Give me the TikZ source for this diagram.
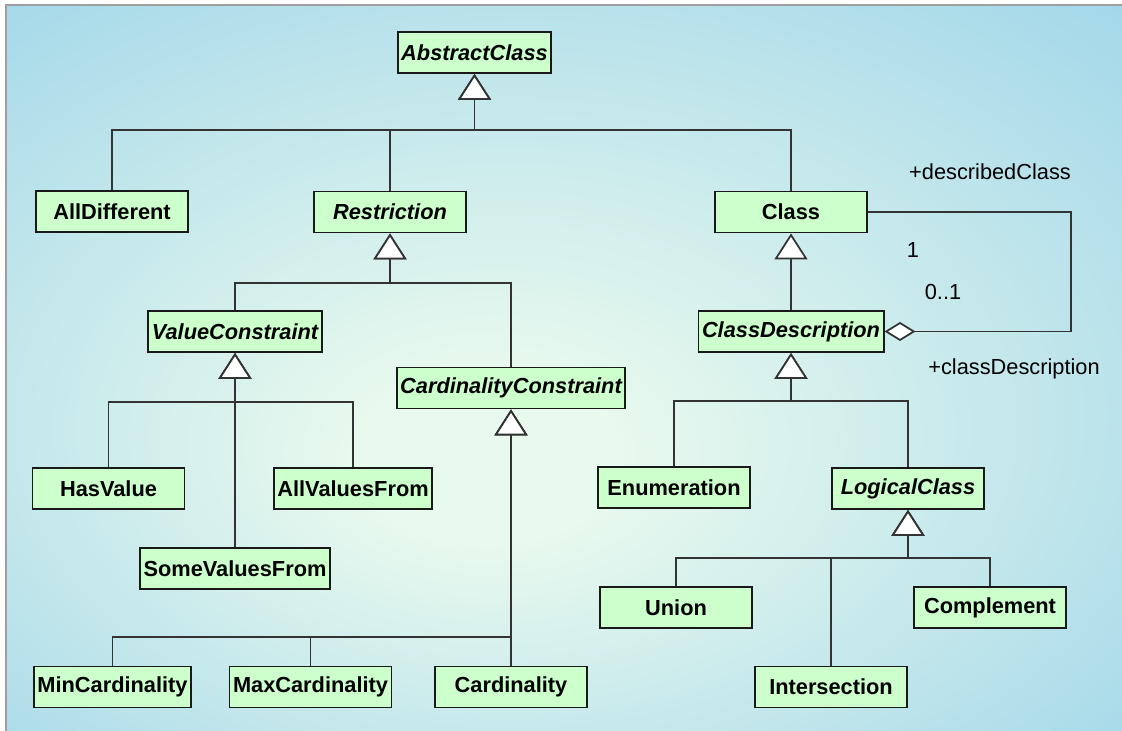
\documentclass[tikz,border=0pt]{standalone}
\usepackage{fontspec}
\setmainfont{Liberation Sans}
\usetikzlibrary{arrows.meta}
\definecolor{bgout}{HTML}{A2D7E9}
\definecolor{bgin}{HTML}{E8F9EE}
\definecolor{boxfill}{HTML}{CCFFCC}
\definecolor{linegray}{HTML}{333333}
\pgfdeclareradialshading{bgshade}{\pgfpoint{-4bp}{-7bp}}{color(0bp)=(bgin); color(6bp)=(bgin); color(38bp)=(bgout); color(50bp)=(bgout)}
\begin{document}
\begin{tikzpicture}[
  cls/.style={draw=black!90,line width=1.1pt,fill=boxfill,minimum width=3.04cm,minimum height=0.82cm,inner xsep=2pt,font=\fontsize{12.4}{14}\selectfont\bfseries},
  abs/.style={cls,font=\fontsize{12.4}{14}\selectfont\bfseries\itshape},
  gen/.style={draw=linegray,line width=0.8pt,-{Triangle[fill=white,width=0.66cm,length=0.52cm,line width=1pt]}},
  agg/.style={draw=linegray,line width=0.8pt,-{Diamond[fill=white,width=0.38cm,length=0.62cm,line width=1pt]}},
  role/.style={font=\fontsize{12.4}{14}\selectfont}
]
\useasboundingbox (0,0) rectangle (22.44,14.62);
\fill[white] (0,0) rectangle (22.44,14.62);
\shade[shading=bgshade] (0.12,0) rectangle (22.44,14.52);
\draw[gray!75,line width=1pt] (0.12,0) -- (0.12,14.52) -- (22.44,14.52);

\node[abs] (AbstractClass) at (9.49,13.57) {AbstractClass};
\node[cls] (AllDifferent) at (2.24,10.39) {AllDifferent};
\node[abs] (Restriction) at (7.80,10.38) {Restriction};
\node[cls] (Class) at (15.82,10.38) {Class};
\node[abs] (ValueConstraint) at (4.70,7.99) {ValueConstraint};
\node[abs] (ClassDescription) at (15.82,7.99) {ClassDescription};
\node[abs] (CardinalityConstraint) at (10.22,6.86) {CardinalityConstraint};
\node[cls] (HasValue) at (2.17,4.85) {HasValue};
\node[cls] (AllValuesFrom) at (7.06,4.85) {AllValuesFrom};
\node[cls] (SomeValuesFrom) at (4.70,3.25) {SomeValuesFrom};
\node[cls] (Enumeration) at (13.48,4.87) {Enumeration};
\node[abs] (LogicalClass) at (18.16,4.85) {LogicalClass};
\node[cls] (Union) at (13.52,2.47) {Union};
\node[cls] (Complement) at (19.80,2.47) {Complement};
\node[cls] (Intersection) at (16.62,0.88) {Intersection};
\node[cls] (MinCardinality) at (2.25,0.88) {MinCardinality};
\node[cls] (MaxCardinality) at (6.21,0.88) {MaxCardinality};
\node[cls] (Cardinality) at (10.22,0.88) {Cardinality};

\draw[gen] (AllDifferent) -- ++(0,1.63) -| (AbstractClass);
\draw[gen] (Restriction) -- ++(0,1.64) -| (AbstractClass);
\draw[gen] (Class) -- ++(0,1.64) -| (AbstractClass);
\draw[gen] (ValueConstraint) -- ++(0,0.97) -| (Restriction);
\draw[gen] (CardinalityConstraint) -- ++(0,2.10) -| (Restriction);
\draw[gen] (HasValue) -- ++(0,1.73) -| (ValueConstraint);
\draw[gen] (AllValuesFrom) -- ++(0,1.73) -| (ValueConstraint);
\draw[gen] (SomeValuesFrom) -- (ValueConstraint);
\draw[gen] (MinCardinality) -- ++(0,1.00) -| (CardinalityConstraint);
\draw[gen] (MaxCardinality) -- ++(0,1.00) -| (CardinalityConstraint);
\draw[gen] (Cardinality) -- (CardinalityConstraint);
\draw[gen] (ClassDescription) -- (Class);
\draw[gen] (Enumeration) -- ++(0,1.73) -| (ClassDescription);
\draw[gen] (LogicalClass) -- ++(0,1.75) -| (ClassDescription);
\draw[gen] (Union) -- ++(0,0.99) -| (LogicalClass);
\draw[gen] (Complement) -- ++(0,0.99) -| (LogicalClass);
\draw[gen] (Intersection) -- ++(0,2.58) -| (LogicalClass);
\draw[agg] (Class.east) -- ++(4.06,0) |- (ClassDescription.east);

\node[role] (describedClass) at (19.80,11.18) {+describedClass};
\node[role] (multOne) at (18.26,9.62) {1};
\node[role] (multOpt) at (18.86,8.78) {0..1};
\node[role] (classDescription) at (20.28,7.24) {+classDescription};
\end{tikzpicture}
\end{document}
